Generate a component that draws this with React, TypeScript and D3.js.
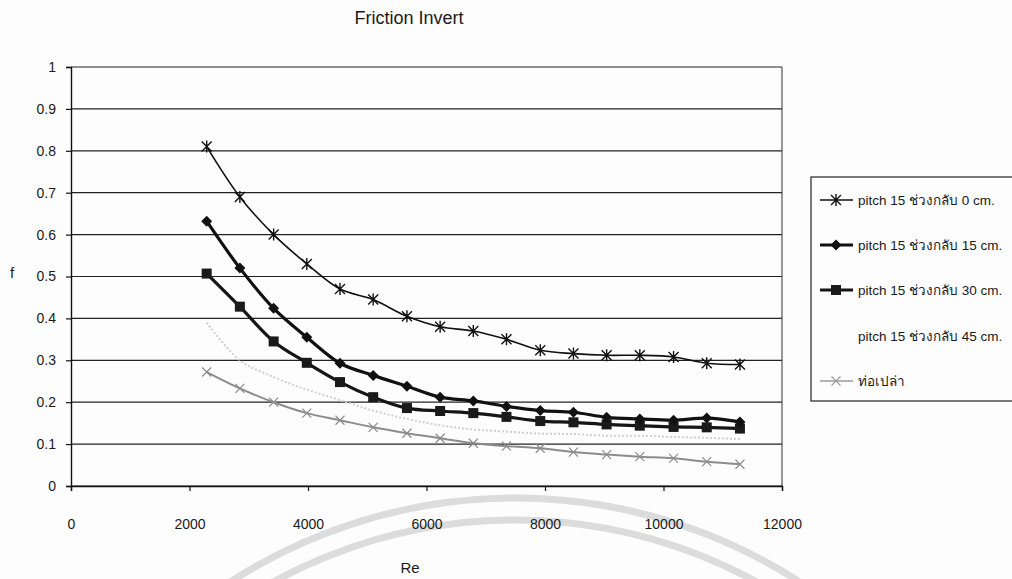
import React, { useEffect, useRef } from 'react';
import * as d3 from 'd3';

const reValues = [2290, 2850, 3420, 3980, 4540, 5100, 5670, 6230, 6790, 7350, 7920, 8480, 9040, 9600, 10170, 10730, 11290];

// f values per series
const pitch0 = [0.81, 0.69, 0.6, 0.53, 0.47, 0.445, 0.405, 0.38, 0.37, 0.35, 0.324, 0.316, 0.312, 0.312, 0.308, 0.293, 0.29];
const pitch15 = [0.632, 0.52, 0.424, 0.355, 0.293, 0.264, 0.238, 0.212, 0.203, 0.19, 0.18, 0.176, 0.164, 0.16, 0.157, 0.162, 0.153];
const pitch30 = [0.507, 0.428, 0.345, 0.294, 0.248, 0.212, 0.186, 0.179, 0.174, 0.165, 0.155, 0.152, 0.147, 0.144, 0.141, 0.14, 0.137];
const pitch45 = [0.39, 0.3, 0.26, 0.23, 0.205, 0.18, 0.16, 0.145, 0.135, 0.13, 0.125, 0.124, 0.12, 0.12, 0.117, 0.115, 0.112];
const plainPipe = [0.272, 0.233, 0.2, 0.174, 0.157, 0.14, 0.126, 0.114, 0.102, 0.095, 0.09, 0.081, 0.075, 0.07, 0.066, 0.058, 0.052];

const seriesNames = [
  'pitch 15 ช่วงกลับ 0 cm.',
  'pitch 15 ช่วงกลับ 15 cm.',
  'pitch 15 ช่วงกลับ 30 cm.',
  'pitch 15 ช่วงกลับ 45 cm.',
  'ท่อเปล่า',
];

const xTicks = [0, 2000, 4000, 6000, 8000, 10000, 12000];
const yTicks = [0, 0.1, 0.2, 0.3, 0.4, 0.5, 0.6, 0.7, 0.8, 0.9, 1];

const FONT = 'Liberation Sans, Arial, Noto Sans, sans-serif';

const App = () => {
  const svgRef = useRef<SVGSVGElement>(null);

  useEffect(() => {
    const svg = d3.select(svgRef.current);
    svg.selectAll('*').remove();

    const W = 1012;
    const H = 579;
    const left = 71, right = 782, top = 67, bottom = 486;

    const x = d3.scaleLinear().domain([0, 12000]).range([left, right]);
    const y = d3.scaleLinear().domain([0, 1]).range([bottom, top]);

    svg.append('rect').attr('width', W).attr('height', H).attr('fill', '#fdfdfd');

    // faint watermark arcs from the scanned page
    const wm = svg.append('g').attr('fill', 'none').attr('stroke', '#dcdcdc').attr('stroke-width', 7);
    wm.append('circle').attr('cx', 515).attr('cy', 1022).attr('r', 524);
    wm.append('circle').attr('cx', 515).attr('cy', 1022).attr('r', 502);

    // gridlines
    svg.append('g')
      .selectAll('line')
      .data(yTicks)
      .enter().append('line')
      .attr('x1', left).attr('x2', right)
      .attr('y1', d => y(d)).attr('y2', d => y(d))
      .attr('stroke', '#222').attr('stroke-width', 1.2);

    // right border
    svg.append('line')
      .attr('x1', right).attr('x2', right).attr('y1', top).attr('y2', bottom)
      .attr('stroke', '#333').attr('stroke-width', 1);

    // axes
    const xAxis = svg.append('g')
      .attr('transform', `translate(0,${bottom})`)
      .call(d3.axisBottom(x).tickValues(xTicks).tickSize(5).tickPadding(28).tickFormat(d3.format('d')));
    const yAxis = svg.append('g')
      .attr('transform', `translate(${left},0)`)
      .call(d3.axisLeft(y).tickValues(yTicks).tickSize(5).tickPadding(10).tickFormat(d => `${+d}`));

    [xAxis, yAxis].forEach(g => {
      g.select('.domain').attr('stroke', '#111').attr('stroke-width', 1.4);
      g.selectAll('.tick line').attr('stroke', '#111').attr('stroke-width', 1.2);
      g.selectAll('.tick text')
        .attr('fill', '#1a1a1a')
        .style('font-family', FONT)
        .style('font-size', '14px');
    });

    const line = d3.line<[number, number]>()
      .x(d => x(d[0]))
      .y(d => y(d[1]))
      .curve(d3.curveCatmullRom.alpha(0.5));

    const pts = (vals: number[]) => reValues.map((r, i) => [r, vals[i]] as [number, number]);

    // 45 cm: very faint dotted line
    svg.append('path')
      .attr('d', line(pts(pitch45)))
      .attr('fill', 'none')
      .attr('stroke', '#cfcfcf')
      .attr('stroke-width', 2)
      .attr('stroke-dasharray', '2,2');

    // plain pipe: grey with x markers
    svg.append('path')
      .attr('d', line(pts(plainPipe)))
      .attr('fill', 'none')
      .attr('stroke', '#8c8c8c')
      .attr('stroke-width', 2);

    const drawX = (g: any, cx: number, cy: number, s: number, color: string, w: number) => {
      g.append('path')
        .attr('d', `M${cx - s},${cy - s}L${cx + s},${cy + s}M${cx - s},${cy + s}L${cx + s},${cy - s}`)
        .attr('stroke', color).attr('stroke-width', w).attr('fill', 'none');
    };
    const drawStar = (g: any, cx: number, cy: number, s: number) => {
      g.append('path')
        .attr('d', `M${cx - s},${cy - s}L${cx + s},${cy + s}M${cx - s},${cy + s}L${cx + s},${cy - s}M${cx},${cy - s - 1}L${cx},${cy + s + 1}`)
        .attr('stroke', '#111').attr('stroke-width', 1.4).attr('fill', 'none');
    };
    const drawDiamond = (g: any, cx: number, cy: number, s: number) => {
      g.append('path')
        .attr('d', `M${cx},${cy - s}L${cx + s},${cy}L${cx},${cy + s}L${cx - s},${cy}Z`)
        .attr('fill', '#111');
    };
    const drawSquare = (g: any, cx: number, cy: number, s: number) => {
      g.append('rect')
        .attr('x', cx - s).attr('y', cy - s).attr('width', 2 * s).attr('height', 2 * s)
        .attr('fill', '#1a1a1a');
    };

    const pipeMarks = svg.append('g');
    pts(plainPipe).forEach(([r, v]) => drawX(pipeMarks, x(r), y(v), 4.5, '#8c8c8c', 1.2));

    // 30 cm
    svg.append('path')
      .attr('d', line(pts(pitch30)))
      .attr('fill', 'none').attr('stroke', '#151515').attr('stroke-width', 3.2);
    const sqMarks = svg.append('g');
    pts(pitch30).forEach(([r, v]) => drawSquare(sqMarks, x(r), y(v), 5));

    // 15 cm
    svg.append('path')
      .attr('d', line(pts(pitch15)))
      .attr('fill', 'none').attr('stroke', '#111').attr('stroke-width', 3.2);
    const dmMarks = svg.append('g');
    pts(pitch15).forEach(([r, v]) => drawDiamond(dmMarks, x(r), y(v), 5.5));

    // 0 cm
    svg.append('path')
      .attr('d', line(pts(pitch0)))
      .attr('fill', 'none').attr('stroke', '#111').attr('stroke-width', 1.6);
    const stMarks = svg.append('g');
    pts(pitch0).forEach(([r, v]) => drawStar(stMarks, x(r), y(v), 5));

    // titles
    svg.append('text')
      .attr('x', 409).attr('y', 24)
      .attr('text-anchor', 'middle')
      .style('font-family', FONT).style('font-size', '18px')
      .attr('fill', '#1a1a1a')
      .text('Friction Invert');
    svg.append('text')
      .attr('x', 410).attr('y', 573)
      .attr('text-anchor', 'middle')
      .style('font-family', FONT).style('font-size', '15px')
      .attr('fill', '#1a1a1a')
      .text('Re');
    svg.append('text')
      .attr('x', 12).attr('y', 278)
      .attr('text-anchor', 'middle')
      .style('font-family', FONT).style('font-size', '15px')
      .attr('fill', '#1a1a1a')
      .text('f');

    // legend
    const lg = svg.append('g');
    lg.append('rect')
      .attr('x', 811).attr('y', 177).attr('width', 220).attr('height', 224)
      .attr('fill', '#fdfdfd').attr('stroke', '#222').attr('stroke-width', 1.2);
    const rowY = [200, 245, 290, 336, 381];
    seriesNames.forEach((name, i) => {
      const cy = rowY[i];
      if (i === 0) {
        lg.append('line').attr('x1', 820).attr('x2', 853).attr('y1', cy).attr('y2', cy).attr('stroke', '#111').attr('stroke-width', 1.6);
        drawStar(lg, 836, cy, 5);
      } else if (i === 1) {
        lg.append('line').attr('x1', 820).attr('x2', 853).attr('y1', cy).attr('y2', cy).attr('stroke', '#111').attr('stroke-width', 3.2);
        drawDiamond(lg, 836, cy, 5.5);
      } else if (i === 2) {
        lg.append('line').attr('x1', 820).attr('x2', 853).attr('y1', cy).attr('y2', cy).attr('stroke', '#151515').attr('stroke-width', 3.2);
        drawSquare(lg, 836, cy, 5);
      } else if (i === 4) {
        lg.append('line').attr('x1', 820).attr('x2', 853).attr('y1', cy).attr('y2', cy).attr('stroke', '#9a9a9a').attr('stroke-width', 1.6);
        drawX(lg, 836, cy, 4.5, '#9a9a9a', 1.1);
      }
      lg.append('text')
        .attr('x', 858).attr('y', cy + 5)
        .style('font-family', FONT).style('font-size', '13.5px')
        .attr('fill', '#1a1a1a')
        .text(name);
    });
  }, []);

  return (
    <div style={{ position: 'absolute', left: 0, top: 0, width: 1012, height: 579 }}>
      <svg ref={svgRef} width={1012} height={579}></svg>
    </div>
  );
};

export default App;
